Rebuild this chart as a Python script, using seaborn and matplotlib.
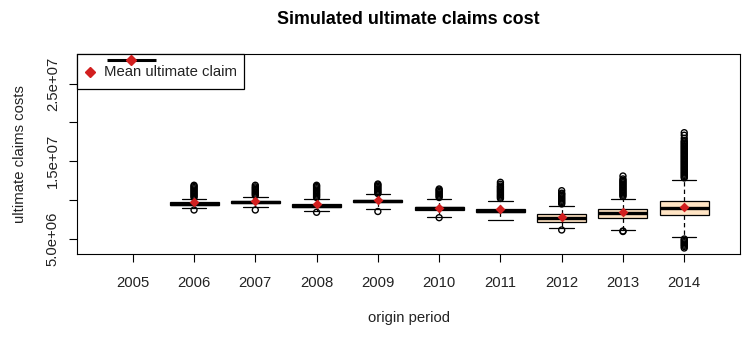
import matplotlib
matplotlib.use("Agg")
import matplotlib.pyplot as plt
import pandas as pd
import seaborn as sns
from matplotlib.patches import Rectangle

# Origin years shown on the x axis (2005 has no simulated distribution)
years = ["2005", "2006", "2007", "2008", "2009", "2010", "2011", "2012", "2013", "2014"]
box_years = ["2006", "2007", "2008", "2009", "2010", "2011", "2012", "2013", "2014"]

# Five-number summaries of the simulated ultimate claims (millions)
lower_whisker = [8.953, 9.121, 8.644, 8.902, 7.872, 7.485, 6.455, 6.198, 5.219]
q1 = [9.379, 9.572, 9.121, 9.726, 8.773, 8.477, 7.228, 7.743, 8.052]
median = [9.546, 9.726, 9.288, 9.894, 8.953, 8.644, 7.666, 8.387, 9.031]
q3 = [9.700, 9.881, 9.443, 10.048, 9.147, 8.825, 8.181, 8.863, 9.932]
upper_whisker = [10.113, 10.409, 10.113, 10.757, 10.113, 9.932, 9.250, 10.190, 12.598]

# Mean ultimate claim per origin year (millions)
mean_claim = [9.726, 9.932, 9.507, 9.984, 9.031, 8.863, 7.872, 8.438, 9.082]

# Simulations lying beyond the whiskers (millions)
outliers_2006 = [8.735, 10.34, 10.50, 10.66, 10.82, 10.98, 11.14, 11.30, 11.46,
                 11.62, 11.78, 11.92]
outliers_2007 = [8.735, 10.60, 10.76, 10.92, 11.08, 11.24, 11.40, 11.56, 11.72,
                 11.92]
outliers_2008 = [8.438, 10.34, 10.50, 10.66, 10.82, 10.98, 11.14, 11.30, 11.46,
                 11.62, 11.78, 11.92]
outliers_2009 = [8.541, 10.85, 10.99, 11.15, 11.31, 11.47, 11.63, 11.79, 11.95,
                 12.08]
outliers_2010 = [7.743, 10.34, 10.50, 10.66, 10.82, 10.98, 11.14, 11.30, 11.44]
outliers_2011 = [10.22, 10.38, 10.54, 10.70, 10.86, 11.02, 11.18, 11.34, 11.50,
                 11.66, 11.82, 12.05, 12.30]
outliers_2012 = [6.159, 9.51, 9.67, 9.83, 9.99, 10.15, 10.31, 10.47, 10.63,
                 10.79, 10.90, 11.22]
outliers_2013 = [6.030, 5.966, 10.47, 10.63, 10.79, 10.95, 11.11, 11.27, 11.43,
                 11.59, 11.75, 11.91, 12.07, 12.23, 12.39, 12.55, 12.73, 13.11]
outliers_2014 = [5.00, 4.84, 4.68, 4.52, 4.36, 4.20, 4.04, 3.84,
                 12.86, 13.02, 13.18, 13.34, 13.50, 13.66, 13.82, 13.98, 14.14,
                 14.30, 14.46, 14.62, 14.78, 14.94, 15.10, 15.26, 15.42, 15.58,
                 15.74, 15.90, 16.06, 16.22, 16.38, 16.54, 16.70, 16.86, 17.02,
                 17.18, 17.34, 17.50, 17.66, 17.97, 18.36, 18.69]
outlier_lists = [outliers_2006, outliers_2007, outliers_2008, outliers_2009,
                 outliers_2010, outliers_2011, outliers_2012, outliers_2013,
                 outliers_2014]

SCALE = 1e6

# Long-format tables for seaborn
box_rows = []
for i, yr in enumerate(box_years):
    for v in (lower_whisker[i], q1[i], median[i], q3[i], upper_whisker[i]):
        box_rows.append({"year": yr, "cost": v * SCALE})
box_df = pd.DataFrame(box_rows)

out_rows = []
for yr, vals in zip(box_years, outlier_lists):
    for v in vals:
        out_rows.append({"year": yr, "cost": v * SCALE})
out_df = pd.DataFrame(out_rows)

mean_df = pd.DataFrame({"year": box_years, "cost": [m * SCALE for m in mean_claim]})

sns.set_theme(style="ticks")
plt.rcParams["font.family"] = ["Liberation Sans", "DejaVu Sans"]

FONT = 10.7
RED = "#d21f1f"
TEXT = "#222222"

fig = plt.figure(figsize=(7.52, 3.45), dpi=100)
ax = fig.add_axes([77 / 752, 91 / 345, 663 / 752, 200 / 345])

sns.boxplot(
    data=box_df, x="year", y="cost", order=years, ax=ax,
    color="#FFE4C4", saturation=1, width=0.8,
    linecolor="black", linewidth=0.9,
    whis=(0, 100), showfliers=False,
    medianprops=dict(linewidth=2.4, color="black"),
    whiskerprops=dict(linestyle=(0, (3.5, 2.5))),
    capprops=dict(linestyle="-"),
)

sns.stripplot(
    data=out_df, x="year", y="cost", order=years, ax=ax,
    jitter=False, marker="o", size=4.3, facecolors="none",
    edgecolor="black", linewidth=1.0, color="black", zorder=3,
)

sns.stripplot(
    data=mean_df, x="year", y="cost", order=years, ax=ax,
    jitter=False, marker="D", size=5, color=RED, linewidth=0, zorder=4,
)

ax.set_xlim(-0.91, 9.91)
ax.set_ylim(3.068e6, 2.882e7)
ax.set_yticks([5e6, 1e7, 1.5e7, 2e7, 2.5e7])
ax.set_yticklabels(["5.0e+06", "", "1.5e+07", "", "2.5e+07"])
ax.set_xticks(range(len(years)))
ax.set_xticklabels(years)

for side in ("left", "right", "top", "bottom"):
    ax.spines[side].set_visible(True)
    ax.spines[side].set_color("black")
    ax.spines[side].set_linewidth(0.8)

ax.tick_params(axis="both", direction="out", length=5.8, width=0.8,
               color="black", labelcolor=TEXT, labelsize=FONT)
ax.tick_params(axis="x", pad=10)
ax.tick_params(axis="y", pad=6.5, labelrotation=90)
for lbl in ax.get_yticklabels():
    lbl.set_va("center")

ax.set_xlabel("origin period", fontsize=FONT, color=TEXT)
ax.xaxis.set_label_coords(0.5, -0.32)
ax.xaxis.label.set_va("center")
ax.set_ylabel("ultimate claims costs", fontsize=FONT, color=TEXT)
ax.yaxis.set_label_coords(-0.086, 0.5)
ax.yaxis.label.set_va("center")

ax.set_title("Simulated ultimate claims cost", fontsize=12.9, fontweight="bold",
             y=1.17, pad=0, va="center", color="black")

# Legend box in the top-left corner
ax.add_patch(Rectangle((0, 0.825), 0.2519, 0.175, transform=ax.transAxes,
                       facecolor="white", edgecolor="black", linewidth=0.9,
                       zorder=5, clip_on=False))
ax.plot([0.0452, 0.1192], [0.97, 0.97], transform=ax.transAxes, color="black",
        linewidth=2.2, solid_capstyle="butt", zorder=6, clip_on=False)
ax.plot([0.0822], [0.97], transform=ax.transAxes, marker="D", markersize=5,
        color=RED, linestyle="none", zorder=7, clip_on=False)
ax.plot([0.0196], [0.9085], transform=ax.transAxes, marker="D", markersize=5,
        color=RED, linestyle="none", zorder=7)
ax.text(0.0412, 0.9085, "Mean ultimate claim", transform=ax.transAxes,
        fontsize=FONT, va="center", ha="left", color=TEXT, zorder=7)

fig.savefig("out.png", dpi=100)
